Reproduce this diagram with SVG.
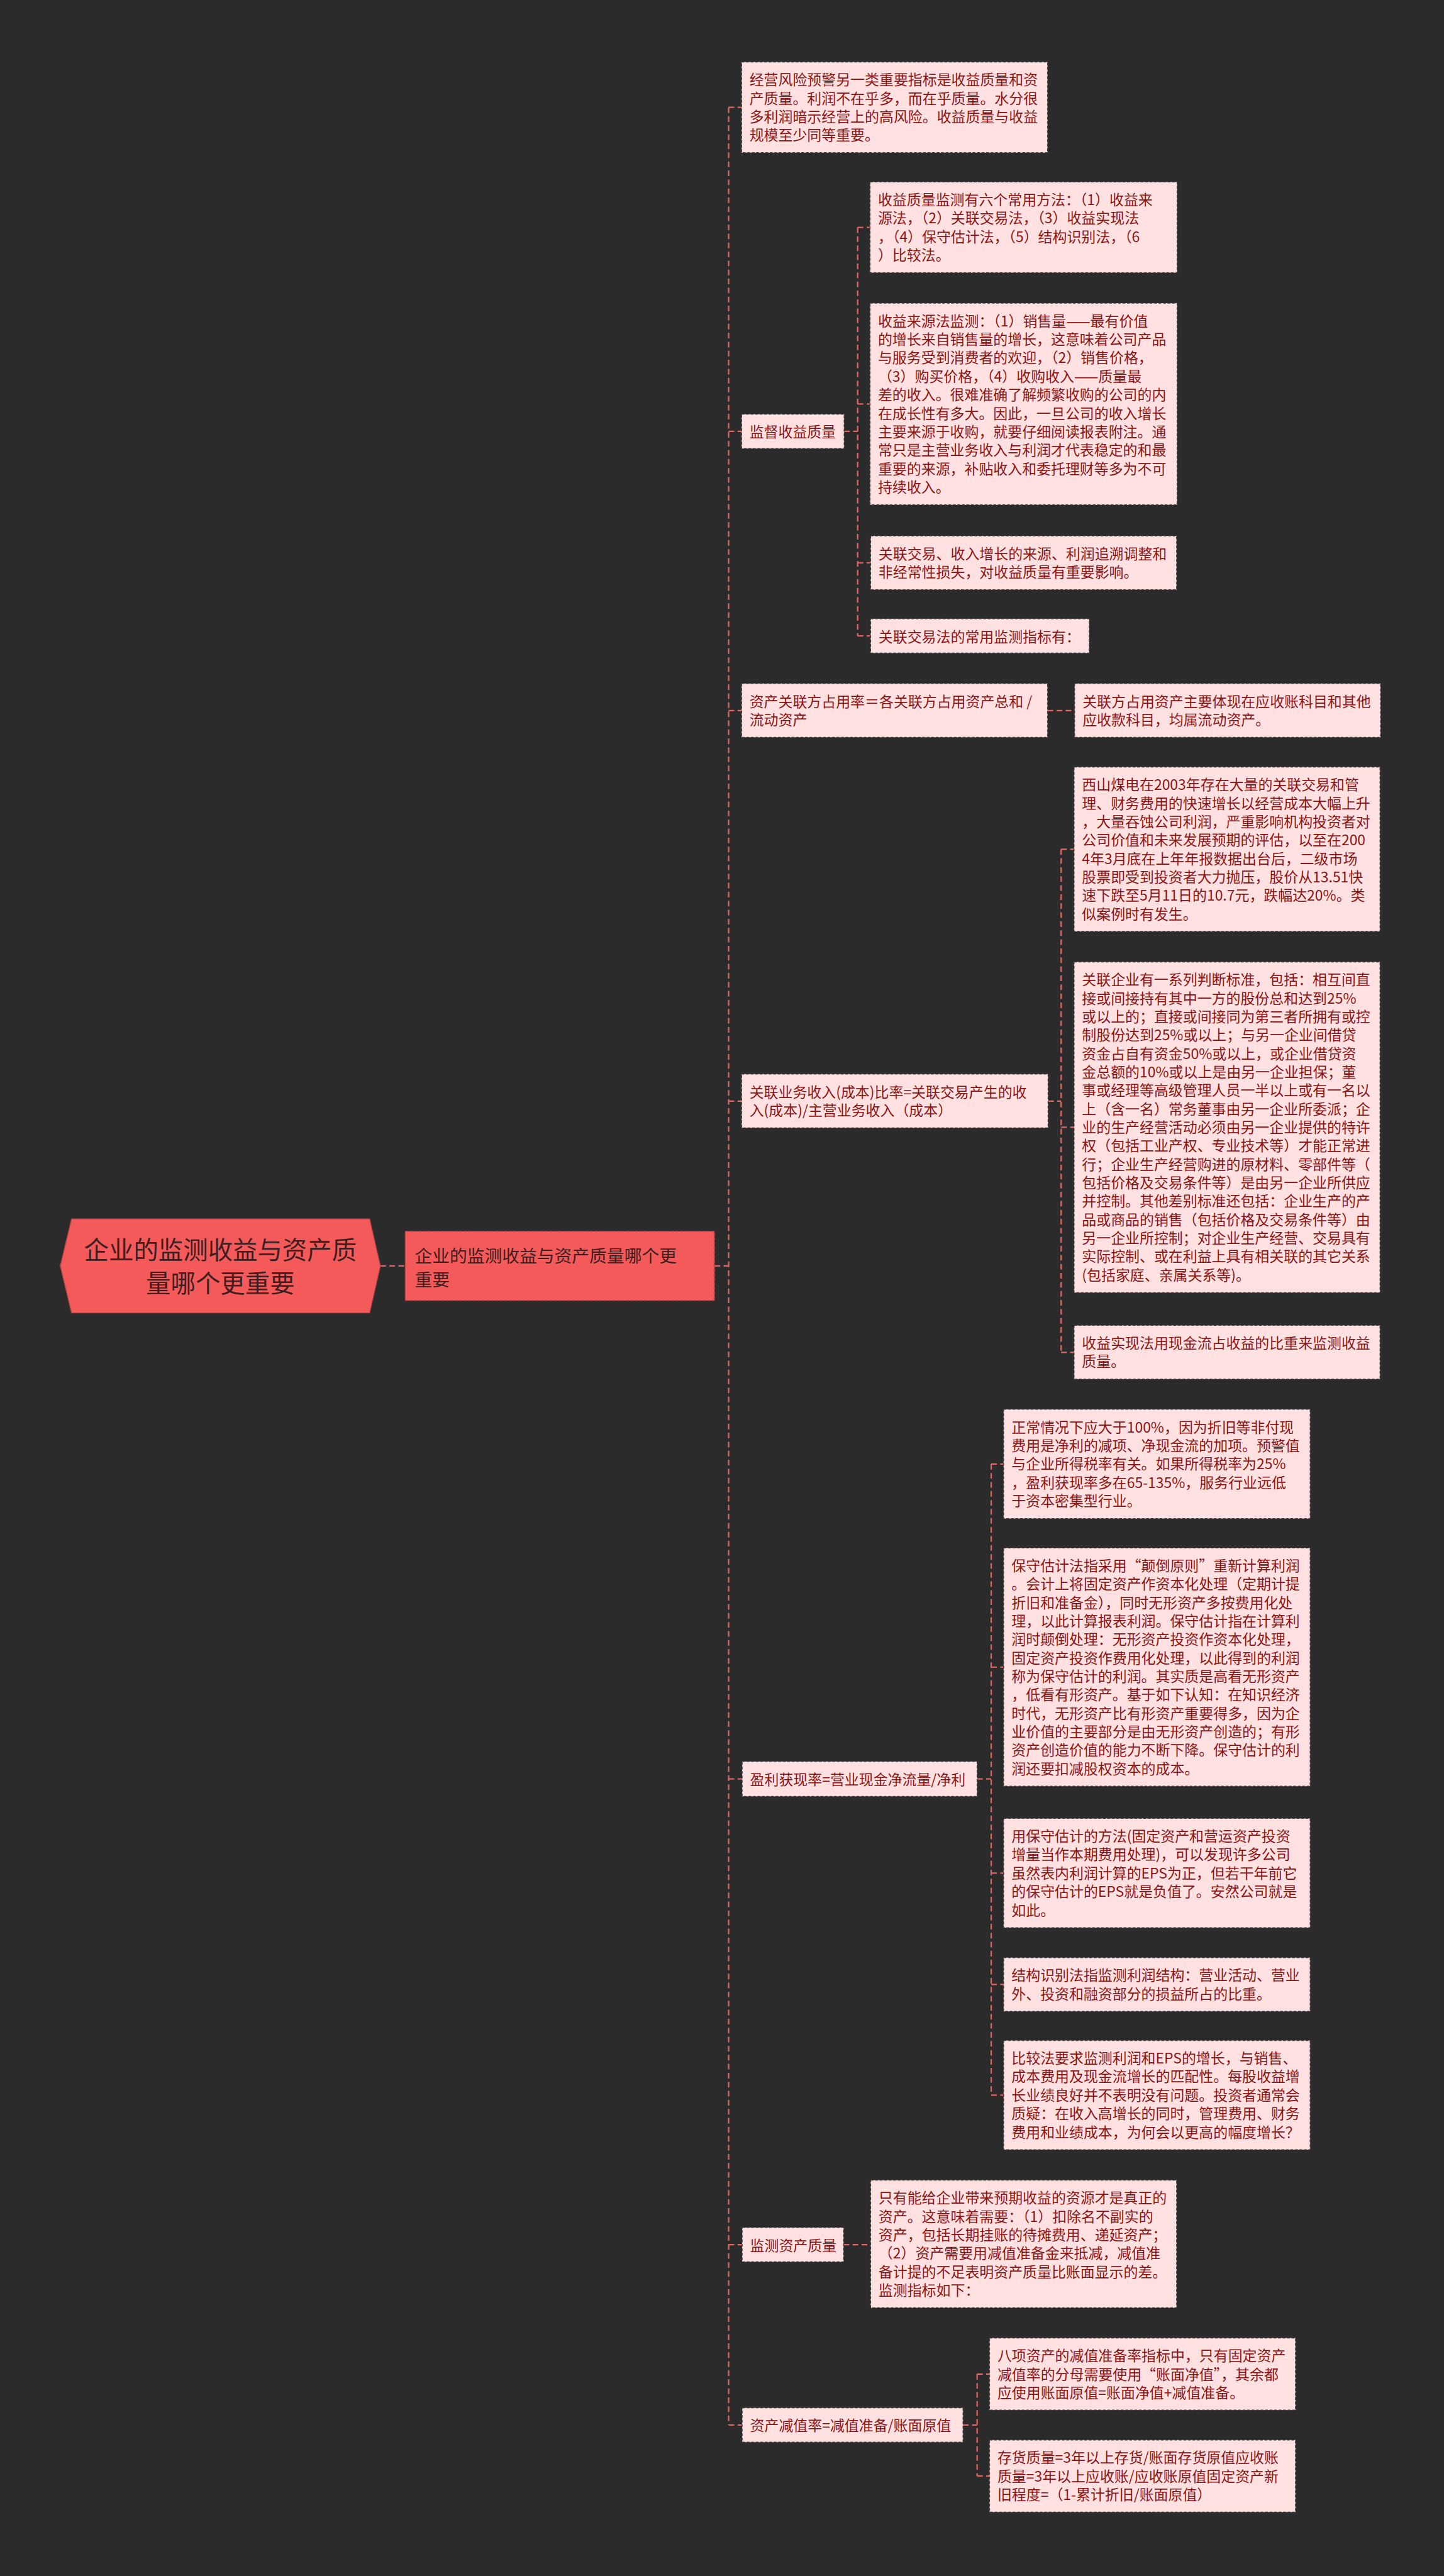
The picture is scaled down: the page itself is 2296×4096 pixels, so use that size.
<svg xmlns="http://www.w3.org/2000/svg" width="2296" height="4096" viewBox="0 0 2296 4096">
<style>
.leaf rect{fill:#FFE1E1;stroke:#3a3a3a;stroke-width:1.6;stroke-dasharray:5 3}
.leaf text{font-family:"Noto Sans CJK SC","Noto Sans",sans-serif;font-size:25.6px;fill:#8B1515}
.conn path{fill:none;stroke:#E06666;stroke-width:2.5;stroke-dasharray:10 6}
.main text{font-family:"Noto Sans CJK SC","Noto Sans",sans-serif;fill:#3E1E1E}
</style>
<rect x="0" y="0" width="2296" height="4096" fill="#2B2B2B"/>
<g transform="scale(0.896)">
<g id="connectors" class="conn">
<path d="M675 2246.5H719"/>
<path d="M1268 2246.5H1293"/>
<path d="M1293 190.5V4303.5"/>
<path d="M1293 190.5H1316M1293 765.5H1316M1293 1261H1316M1293 1954H1316M1293 3157H1317M1293 3983.5H1317M1293 4303.5H1317"/>
<path d="M1498 765.5H1522M1522 403.5V1128.5M1522 403.5H1544M1522 717H1544M1522 998.7H1545M1522 1128.5H1545"/>
<path d="M1859 1261H1907"/>
<path d="M1860 1954H1883M1883 1507V2400M1883 1507H1906M1883 2000.5H1906M1883 2400H1906"/>
<path d="M1734 3157H1759M1759 2598V3718M1759 2598H1781M1759 2958.5H1781M1759 3324H1781M1759 3521.7H1781M1759 3718H1781"/>
<path d="M1497 3983.5H1545"/>
<path d="M1709 4303.5H1734M1734 4213V4394M1734 4213H1756M1734 4394H1756"/>
</g>
<g id="root" class="main">
<polygon points="127,2163 656,2163 675,2246.5 656,2330 127,2330 107,2246.5" fill="#F45A5A" stroke="#B84444" stroke-width="1.5"/>
<text x="391" y="2234" font-size="44" text-anchor="middle">企业的监测收益与资产质</text>
<text x="391" y="2294" font-size="44" text-anchor="middle">量哪个更重要</text>
</g>
<g id="n-l1" class="main">
<rect x="719" y="2185" width="549" height="123" fill="#F45A5A" stroke="#A84040" stroke-width="1.6" stroke-dasharray="5 3"/>
<text x="736" y="2240" font-size="31">企业的监测收益与资产质量哪个更</text>
<text x="736" y="2282" font-size="31">重要</text>
</g>
<g id="n-a" class="leaf">
<rect x="1316" y="110" width="543" height="161"/>
<text x="1330" y="151"><tspan x="1330" dy="0">经营风险预警另一类重要指标是收益质量和资</tspan><tspan x="1330" dy="32.75">产质量。利润不在乎多，而在乎质量。水分很</tspan><tspan x="1330" dy="32.75">多利润暗示经营上的高风险。收益质量与收益</tspan><tspan x="1330" dy="32.75">规模至少同等重要。</tspan></text>
</g>
<g id="n-b" class="leaf">
<rect x="1316" y="735" width="182" height="61"/>
<text x="1330" y="776">监督收益质量</text>
</g>
<g id="n-b1" class="leaf">
<rect x="1544" y="323" width="545" height="161"/>
<text x="1558" y="364"><tspan x="1558" dy="0">收益质量监测有六个常用方法：（1）收益来</tspan><tspan x="1558" dy="32.75">源法，（2）关联交易法，（3）收益实现法</tspan><tspan x="1558" dy="32.75">，（4）保守估计法，（5）结构识别法，（6</tspan><tspan x="1558" dy="32.75">）比较法。</tspan></text>
</g>
<g id="n-b2" class="leaf">
<rect x="1544" y="538" width="545" height="358"/>
<text x="1558" y="579"><tspan x="1558" dy="0">收益来源法监测：（1）销售量——最有价值</tspan><tspan x="1558" dy="32.75">的增长来自销售量的增长，这意味着公司产品</tspan><tspan x="1558" dy="32.75">与服务受到消费者的欢迎，（2）销售价格，</tspan><tspan x="1558" dy="32.75">（3）购买价格，（4）收购收入——质量最</tspan><tspan x="1558" dy="32.75">差的收入。很难准确了解频繁收购的公司的内</tspan><tspan x="1558" dy="32.75">在成长性有多大。因此，一旦公司的收入增长</tspan><tspan x="1558" dy="32.75">主要来源于收购，就要仔细阅读报表附注。通</tspan><tspan x="1558" dy="32.75">常只是主营业务收入与利润才代表稳定的和最</tspan><tspan x="1558" dy="32.75">重要的来源，补贴收入和委托理财等多为不可</tspan><tspan x="1558" dy="32.75">持续收入。</tspan></text>
</g>
<g id="n-b3" class="leaf">
<rect x="1545" y="951" width="543" height="95.5"/>
<text x="1559" y="992"><tspan x="1559" dy="0">关联交易、收入增长的来源、利润追溯调整和</tspan><tspan x="1559" dy="32.75">非经常性损失，对收益质量有重要影响。</tspan></text>
</g>
<g id="n-b4" class="leaf">
<rect x="1545" y="1098" width="388" height="61"/>
<text x="1559" y="1139">关联交易法的常用监测指标有：</text>
</g>
<g id="n-c" class="leaf">
<rect x="1316" y="1213" width="543" height="95.5"/>
<text x="1330" y="1254"><tspan x="1330" dy="0">资产关联方占用率＝各关联方占用资产总和 /</tspan><tspan x="1330" dy="32.75">流动资产</tspan></text>
</g>
<g id="n-c1" class="leaf">
<rect x="1907" y="1213" width="543" height="95.5"/>
<text x="1921" y="1254"><tspan x="1921" dy="0">关联方占用资产主要体现在应收账科目和其他</tspan><tspan x="1921" dy="32.75">应收款科目，均属流动资产。</tspan></text>
</g>
<g id="n-d" class="leaf">
<rect x="1316" y="1906" width="544" height="95.5"/>
<text x="1330" y="1947"><tspan x="1330" dy="0">关联业务收入(成本)比率=关联交易产生的收</tspan><tspan x="1330" dy="32.75">入(成本)/主营业务收入（成本）</tspan></text>
</g>
<g id="n-d1" class="leaf">
<rect x="1906" y="1361" width="543" height="292"/>
<text x="1920" y="1402"><tspan x="1920" dy="0">西山煤电在2003年存在大量的关联交易和管</tspan><tspan x="1920" dy="32.75">理、财务费用的快速增长以经营成本大幅上升</tspan><tspan x="1920" dy="32.75">，大量吞蚀公司利润，严重影响机构投资者对</tspan><tspan x="1920" dy="32.75">公司价值和未来发展预期的评估，以至在200</tspan><tspan x="1920" dy="32.75">4年3月底在上年年报数据出台后，二级市场</tspan><tspan x="1920" dy="32.75">股票即受到投资者大力抛压，股价从13.51快</tspan><tspan x="1920" dy="32.75">速下跌至5月11日的10.7元，跌幅达20%。类</tspan><tspan x="1920" dy="32.75">似案例时有发生。</tspan></text>
</g>
<g id="n-d2" class="leaf">
<rect x="1906" y="1707" width="543" height="587"/>
<text x="1920" y="1748"><tspan x="1920" dy="0">关联企业有一系列判断标准，包括：相互间直</tspan><tspan x="1920" dy="32.75">接或间接持有其中一方的股份总和达到25%</tspan><tspan x="1920" dy="32.75">或以上的；直接或间接同为第三者所拥有或控</tspan><tspan x="1920" dy="32.75">制股份达到25%或以上；与另一企业间借贷</tspan><tspan x="1920" dy="32.75">资金占自有资金50%或以上，或企业借贷资</tspan><tspan x="1920" dy="32.75">金总额的10%或以上是由另一企业担保；董</tspan><tspan x="1920" dy="32.75">事或经理等高级管理人员一半以上或有一名以</tspan><tspan x="1920" dy="32.75">上（含一名）常务董事由另一企业所委派；企</tspan><tspan x="1920" dy="32.75">业的生产经营活动必须由另一企业提供的特许</tspan><tspan x="1920" dy="32.75">权（包括工业产权、专业技术等）才能正常进</tspan><tspan x="1920" dy="32.75">行；企业生产经营购进的原材料、零部件等（</tspan><tspan x="1920" dy="32.75">包括价格及交易条件等）是由另一企业所供应</tspan><tspan x="1920" dy="32.75">并控制。其他差别标准还包括：企业生产的产</tspan><tspan x="1920" dy="32.75">品或商品的销售（包括价格及交易条件等）由</tspan><tspan x="1920" dy="32.75">另一企业所控制；对企业生产经营、交易具有</tspan><tspan x="1920" dy="32.75">实际控制、或在利益上具有相关联的其它关系</tspan><tspan x="1920" dy="32.75">(包括家庭、亲属关系等)。</tspan></text>
</g>
<g id="n-d3" class="leaf">
<rect x="1906" y="2352" width="543" height="95.5"/>
<text x="1920" y="2393"><tspan x="1920" dy="0">收益实现法用现金流占收益的比重来监测收益</tspan><tspan x="1920" dy="32.75">质量。</tspan></text>
</g>
<g id="n-e" class="leaf">
<rect x="1317" y="3126" width="417" height="62"/>
<text x="1331" y="3167">盈利获现率=营业现金净流量/净利</text>
</g>
<g id="n-e1" class="leaf">
<rect x="1781" y="2501" width="544" height="194"/>
<text x="1795" y="2542"><tspan x="1795" dy="0">正常情况下应大于100%，因为折旧等非付现</tspan><tspan x="1795" dy="32.75">费用是净利的减项、净现金流的加项。预警值</tspan><tspan x="1795" dy="32.75">与企业所得税率有关。如果所得税率为25%</tspan><tspan x="1795" dy="32.75">，盈利获现率多在65-135%，服务行业远低</tspan><tspan x="1795" dy="32.75">于资本密集型行业。</tspan></text>
</g>
<g id="n-e2" class="leaf">
<rect x="1781" y="2747" width="544" height="423"/>
<text x="1795" y="2788"><tspan x="1795" dy="0">保守估计法指采用“颠倒原则”重新计算利润</tspan><tspan x="1795" dy="32.75">。会计上将固定资产作资本化处理（定期计提</tspan><tspan x="1795" dy="32.75">折旧和准备金），同时无形资产多按费用化处</tspan><tspan x="1795" dy="32.75">理，以此计算报表利润。保守估计指在计算利</tspan><tspan x="1795" dy="32.75">润时颠倒处理：无形资产投资作资本化处理，</tspan><tspan x="1795" dy="32.75">固定资产投资作费用化处理，以此得到的利润</tspan><tspan x="1795" dy="32.75">称为保守估计的利润。其实质是高看无形资产</tspan><tspan x="1795" dy="32.75">，低看有形资产。基于如下认知：在知识经济</tspan><tspan x="1795" dy="32.75">时代，无形资产比有形资产重要得多，因为企</tspan><tspan x="1795" dy="32.75">业价值的主要部分是由无形资产创造的；有形</tspan><tspan x="1795" dy="32.75">资产创造价值的能力不断下降。保守估计的利</tspan><tspan x="1795" dy="32.75">润还要扣减股权资本的成本。</tspan></text>
</g>
<g id="n-e3" class="leaf">
<rect x="1781" y="3227" width="544" height="194"/>
<text x="1795" y="3268"><tspan x="1795" dy="0">用保守估计的方法(固定资产和营运资产投资</tspan><tspan x="1795" dy="32.75">增量当作本期费用处理)，可以发现许多公司</tspan><tspan x="1795" dy="32.75">虽然表内利润计算的EPS为正，但若干年前它</tspan><tspan x="1795" dy="32.75">的保守估计的EPS就是负值了。安然公司就是</tspan><tspan x="1795" dy="32.75">如此。</tspan></text>
</g>
<g id="n-e4" class="leaf">
<rect x="1781" y="3474" width="544" height="95.5"/>
<text x="1795" y="3515"><tspan x="1795" dy="0">结构识别法指监测利润结构：营业活动、营业</tspan><tspan x="1795" dy="32.75">外、投资和融资部分的损益所占的比重。</tspan></text>
</g>
<g id="n-e5" class="leaf">
<rect x="1781" y="3621" width="544" height="194"/>
<text x="1795" y="3662"><tspan x="1795" dy="0">比较法要求监测利润和EPS的增长，与销售、</tspan><tspan x="1795" dy="32.75">成本费用及现金流增长的匹配性。每股收益增</tspan><tspan x="1795" dy="32.75">长业绩良好并不表明没有问题。投资者通常会</tspan><tspan x="1795" dy="32.75">质疑：在收入高增长的同时，管理费用、财务</tspan><tspan x="1795" dy="32.75">费用和业绩成本，为何会以更高的幅度增长？</tspan></text>
</g>
<g id="n-f" class="leaf">
<rect x="1317" y="3953" width="180" height="61"/>
<text x="1331" y="3994">监测资产质量</text>
</g>
<g id="n-f1" class="leaf">
<rect x="1545" y="3869" width="543" height="226.5"/>
<text x="1559" y="3910"><tspan x="1559" dy="0">只有能给企业带来预期收益的资源才是真正的</tspan><tspan x="1559" dy="32.75">资产。这意味着需要：（1）扣除名不副实的</tspan><tspan x="1559" dy="32.75">资产，包括长期挂账的待摊费用、递延资产；</tspan><tspan x="1559" dy="32.75">（2）资产需要用减值准备金来抵减，减值准</tspan><tspan x="1559" dy="32.75">备计提的不足表明资产质量比账面显示的差。</tspan><tspan x="1559" dy="32.75">监测指标如下：</tspan></text>
</g>
<g id="n-g" class="leaf">
<rect x="1317" y="4273" width="392" height="61"/>
<text x="1331" y="4314">资产减值率=减值准备/账面原值</text>
</g>
<g id="n-g1" class="leaf">
<rect x="1756" y="4149" width="543" height="128"/>
<text x="1770" y="4190"><tspan x="1770" dy="0">八项资产的减值准备率指标中，只有固定资产</tspan><tspan x="1770" dy="32.75">减值率的分母需要使用“账面净值”，其余都</tspan><tspan x="1770" dy="32.75">应使用账面原值=账面净值+减值准备。</tspan></text>
</g>
<g id="n-g2" class="leaf">
<rect x="1756" y="4330" width="543" height="128"/>
<text x="1770" y="4371"><tspan x="1770" dy="0">存货质量=3年以上存货/账面存货原值应收账</tspan><tspan x="1770" dy="32.75">质量=3年以上应收账/应收账原值固定资产新</tspan><tspan x="1770" dy="32.75">旧程度=（1-累计折旧/账面原值）</tspan></text>
</g>
</g>
</svg>
